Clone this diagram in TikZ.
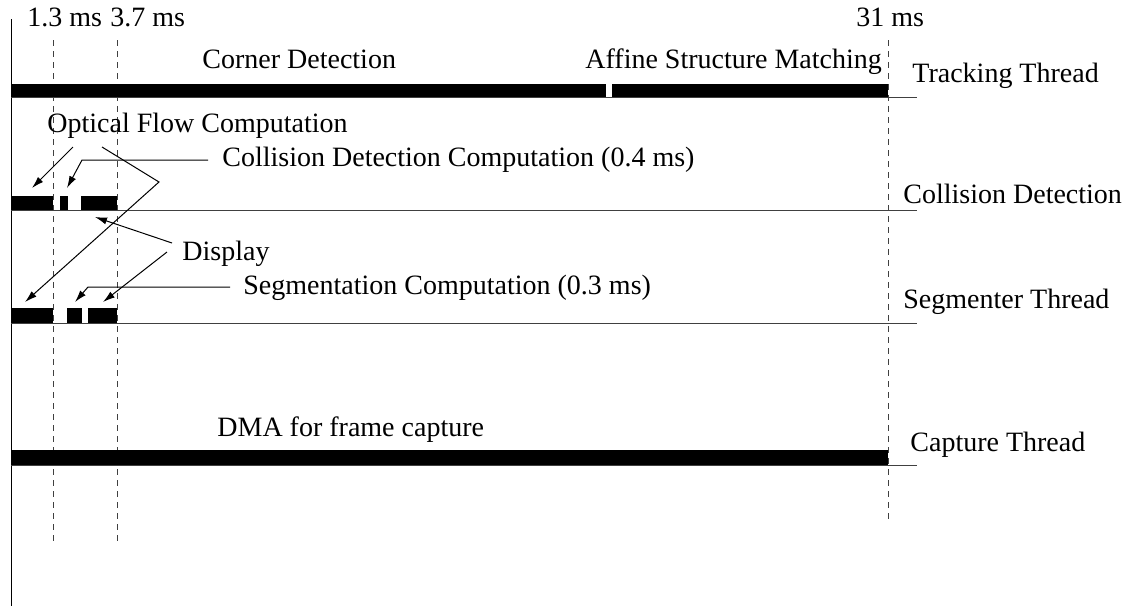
\documentclass[tikz,border=0pt]{standalone}
\usepackage{fontspec}
\setmainfont{Liberation Serif}
\usepackage{tikz}
\usetikzlibrary{
    calc,
    arrows.meta
}
\tikzset{
    lbl/.style={anchor=base west, inner sep=0pt, font=\fontsize{14}{16}\selectfont},
    rail/.style={line width=0.5pt, black!75},
    tick/.style={dash pattern=on 3pt off 2.5pt, line width=0.45pt, black!75},
    ptr/.style={line width=0.5pt, -{Latex[length=6pt,width=3.6pt]}}
}

\begin{document}
\begin{tikzpicture}[x=0.5pt,y=-0.5pt]
\useasboundingbox (0,0) rectangle (1128,606);

\coordinate (O) at (11,19);
\coordinate (Oend) at (11,606);
\draw[line width=0.5pt] (O) -- (Oend);

\draw[tick] (53,40) -- (53,545);
\draw[tick] (117,40) -- (117,545);
\draw[tick] (888,40) -- (888,522);

\node[lbl] (tA) at (27,26) {1.3 ms};
\node[lbl] (tB) at (110,26) {3.7 ms};
\node[lbl] (tC) at (856,26) {31 ms};

% tracking thread
\fill (11,84) rectangle (606,97);
\fill (612,84) rectangle (888,97);
\draw[rail] (11,97) -- (917,97);
\node[lbl] (corner) at (202,68) {Corner Detection};
\node[lbl] (affine) at (585,68) {Affine Structure Matching};
\node[lbl] (track) at (912,82) {Tracking Thread};

% collision detection
\fill (11,196) rectangle (53,210);
\fill (60,196) rectangle (68,210);
\fill (81,196) rectangle (117,210);
\draw[rail] (11,210) -- (917,210);
\node[lbl] (colthr) at (903,203) {Collision Detection};

% segmenter thread
\fill (11,308) rectangle (53,323);
\fill (67,308) rectangle (82,323);
\fill (88,308) rectangle (117,323);
\draw[rail] (11,323) -- (917,323);
\node[lbl] (segthr) at (903,308) {Segmenter Thread};

% capture thread
\fill (11,450) rectangle (888,465);
\draw[rail] (11,465) -- (917,465);
\node[lbl] (dma) at (217,436) {DMA for frame capture};
\node[lbl] (capthr) at (910,451) {Capture Thread};

\node[lbl] (optflow) at (47,132) {Optical Flow Computation};
\node[lbl] (cdcomp) at (222,166) {Collision Detection Computation (0.4 ms)};
\node[lbl] (disp) at (182,260) {Display};
\node[lbl] (segcomp) at (243,294) {Segmentation Computation (0.3 ms)};

\coordinate (cdA) at (32,188);
\coordinate (cdB) at (67,188);
\coordinate (cdC) at (95,217);
\coordinate (sgA) at (25,302);
\coordinate (sgB) at (75,302);
\coordinate (sgC) at (103,302);

\coordinate (ofA) at (73,147);
\coordinate (ofB) at (102,147);
\coordinate (ofBend) at (159,182);
\coordinate (cdStart) at (208,160);
\coordinate (cdKnee) at (82,160);
\coordinate (dpA) at (172,243);
\coordinate (dpB) at (167,252);
\coordinate (sgStart) at (230,287);
\coordinate (sgKnee) at (88,287);

\draw[ptr] (ofA) -- (cdA);
\draw[ptr] (ofB) -- (ofBend) -- (sgA);
\draw[ptr] (cdStart) -- (cdKnee) -- (cdB);
\draw[ptr] (dpA) -- (cdC);
\draw[ptr] (dpB) -- (sgC);
\draw[ptr] (sgStart) -- (sgKnee) -- (sgB);
\end{tikzpicture}
\end{document}
